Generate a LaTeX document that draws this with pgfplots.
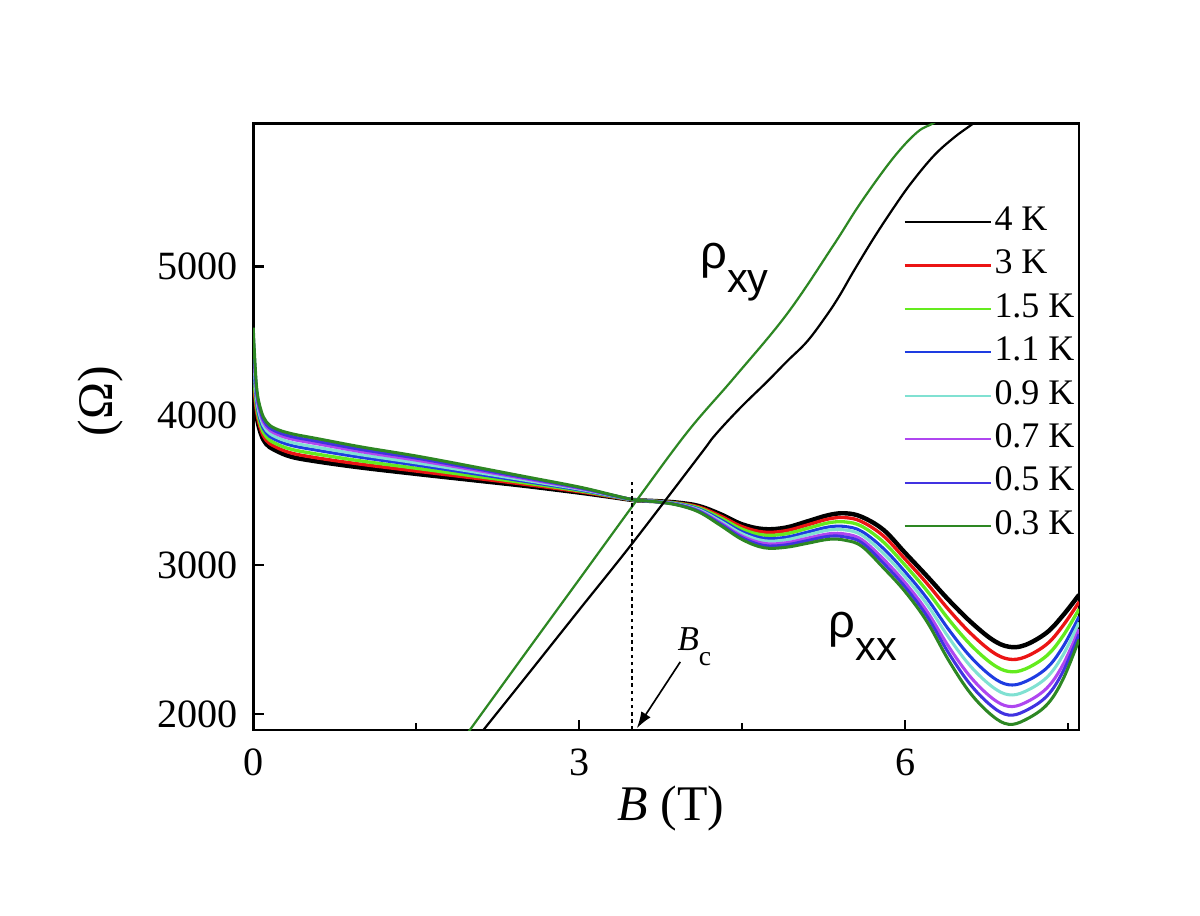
\documentclass[border=0pt]{standalone}
\usepackage{fontspec}
\setmainfont{Liberation Serif}
\newfontfamily\sansf{Liberation Sans}
\usepackage{pgfplots}
\usepackage{pgfplotstable}
\pgfplotsset{compat=1.18}
\usetikzlibrary{arrows.meta}
\definecolor{cK}{RGB}{0,0,0}
\definecolor{cR}{RGB}{235,20,20}
\definecolor{cLG}{RGB}{100,235,30}
\definecolor{cB}{RGB}{30,60,225}
\definecolor{cC}{RGB}{128,225,210}
\definecolor{cP}{RGB}{175,70,240}
\definecolor{cBV}{RGB}{65,50,225}
\definecolor{cG}{RGB}{45,135,35}

\pgfplotstableread{
B     K     R     LG    BL    C     P     BV    G
0     4180  4246  4311  4381  4434  4496  4541  4590
0.03  4000  4032  4064  4098  4124  4154  4176  4200
0.07  3880  3906  3931  3958  3979  4003  4021  4040
0.12  3810  3834  3858  3884  3903  3926  3942  3960
0.2   3770  3793  3816  3841  3860  3882  3898  3915
0.35  3725  3750  3775  3801  3821  3844  3861  3880
0.6   3692  3716  3741  3767  3787  3810  3827  3845
1.0   3652  3674  3696  3720  3738  3758  3773  3790
1.5   3610  3629  3648  3669  3684  3702  3716  3730
2.0   3570  3585  3599  3615  3627  3641  3651  3662
2.5   3530  3540  3550  3560  3568  3578  3585  3592
3.0   3485  3491  3497  3503  3508  3513  3518  3522
3.3   3455  3457  3460  3462  3464  3467  3468  3470
3.5   3435  3435  3436  3436  3436  3437  3437  3437
3.7   3428  3427  3427  3426  3426  3425  3424  3424
3.9   3418  3415  3413  3410  3408  3406  3404  3402
4.1   3395  3389  3382  3375  3370  3364  3360  3355
4.3   3340  3328  3316  3303  3293  3282  3274  3265
4.5   3272  3256  3239  3222  3209  3193  3182  3170
4.7   3240  3220  3200  3179  3162  3144  3130  3115
4.9   3250  3229  3208  3185  3168  3148  3134  3118
5.1   3292  3268  3245  3220  3201  3179  3163  3145
5.3   3335  3309  3283  3255  3234  3209  3192  3172
5.45  3346  3317  3288  3257  3234  3207  3187  3165
5.6   3322  3290  3259  3225  3200  3170  3149  3125
5.8   3235  3194  3153  3110  3077  3039  3011  2980
6.0   3080  3038  2997  2953  2919  2880  2851  2820
6.2   2925  2876  2827  2776  2736  2690  2657  2620
6.4   2765  2700  2635  2567  2514  2453  2409  2360
6.6   2620  2543  2466  2385  2322  2250  2198  2140
6.8   2500  2418  2337  2250  2184  2107  2051  1990
6.95  2452  2369  2286  2197  2130  2052  1994  1932
7.1   2462  2382  2301  2216  2151  2075  2020  1960
7.3   2545  2467  2390  2307  2244  2172  2118  2060
7.45  2660  2591  2522  2449  2393  2329  2282  2230
7.6   2800  2752  2704  2653  2614  2569  2536  2500
}\rxx

\pgfplotstableread{
B     R
1.95  1850
2.5   2403
3.0   2903
3.53  3434
4.0   3895
4.42  4250
4.91  4680
5.34  5143
5.59  5427
5.89  5728
6.11  5900
6.26  5961
6.4   6030
}\rxyG

\pgfplotstableread{
B     R
2.07  1850
2.5   2241
3.0   2699
3.49  3146
4.11  3736
4.25  3870
4.48  4051
4.73  4229
4.91  4363
5.10  4500
5.28  4676
5.40  4810
5.52  4962
5.71  5190
5.89  5390
6.05  5555
6.26  5740
6.45  5865
6.63  5961
6.75  6030
}\rxyK

\begin{document}
\begin{tikzpicture}
\begin{axis}[
  scale only axis, width=298.4pt, height=219.3pt,
  xmin=0, xmax=7.6, ymin=1893, ymax=5961,
  xtick={0,3,6}, minor xtick={1.5,4.5,7.5},
  ytick={2000,3000,4000,5000},
  xtick pos=bottom, ytick pos=left,
  tick align=inside, major tick length=3.8pt, minor tick length=2.4pt,
  tick style={black, line width=0.9pt},
  axis line style={line width=1pt},
  /pgf/number format/1000 sep={},
  /pgf/number format/assume math mode=true,
  tick label style={font=\fontsize{14.5}{14.5}\selectfont},
  xticklabel style={anchor=base, inner sep=0pt, yshift=-16.3pt},
  yticklabel style={anchor=east, inner sep=0pt, xshift=-5.4pt},
  xlabel={\textit{B} (T)}, ylabel={(Ω)},
  every axis x label/.style={at={(rel axis cs:0.506,0)}, anchor=base, yshift=-32.5pt, font=\fontsize{18}{18}\selectfont},
  every axis y label/.style={at={(rel axis cs:0,0.542)}, xshift=-55.3pt, rotate=90, anchor=center, font=\fontsize{18}{18}\selectfont},
  legend style={at={(rel axis cs:0.787,0.870)}, anchor=north west, draw=none, fill=none, inner sep=0pt,
     font=\fontsize{13}{13}\selectfont, row sep=1.7pt,
     nodes={inner sep=1pt, text height=9pt, text depth=3pt}},
  legend cell align=left,
  legend image code/.code={\draw[#1] (0pt,0pt) -- (28pt,0pt); \path (0pt,0pt) -- (31pt,0pt);},
  legend image post style={line width=0.8pt},
]
\addplot[cK, line width=1.6pt, smooth, tension=0.6] table[x=B, y=K] {\rxx};
\addlegendentry{4 K}
\addplot[cR, line width=1.2pt, smooth, tension=0.6] table[x=B, y=R] {\rxx};
\addlegendentry{3 K}
\addplot[cLG, line width=1.2pt, smooth, tension=0.6] table[x=B, y=LG] {\rxx};
\addlegendentry{1.5 K}
\addplot[cB, line width=1.1pt, smooth, tension=0.6] table[x=B, y=BL] {\rxx};
\addlegendentry{1.1 K}
\addplot[cC, line width=1.1pt, smooth, tension=0.6] table[x=B, y=C] {\rxx};
\addlegendentry{0.9 K}
\addplot[cP, line width=1.1pt, smooth, tension=0.6] table[x=B, y=P] {\rxx};
\addlegendentry{0.7 K}
\addplot[cBV, line width=1.1pt, smooth, tension=0.6] table[x=B, y=BV] {\rxx};
\addlegendentry{0.5 K}
\addplot[cG, line width=1.1pt, smooth, tension=0.6] table[x=B, y=G] {\rxx};
\addlegendentry{0.3 K}

\addplot[forget plot, cG, line width=0.8pt, smooth, tension=0.6] table[x=B, y=R] {\rxyG};
\addplot[forget plot, cK, line width=0.8pt, smooth, tension=0.6] table[x=B, y=R] {\rxyK};

\addplot[forget plot, black, line width=0.7pt, dash pattern=on 1.3pt off 1.3pt] coordinates {(3.49,1893) (3.49,3580)};

\draw[-{Latex[length=6pt,width=4pt]}, line width=0.6pt] (axis cs:3.93,2350) -- (axis cs:3.53,1905);

\node[anchor=base west, inner sep=0pt] at (axis cs:3.90,2429)
  {\fontsize{12.6}{12.6}\selectfont\textit{B}\raisebox{-5.4pt}{\fontsize{10}{10}\selectfont c}};
\node[anchor=base west, inner sep=0pt] at (axis cs:4.11,4985)
  {\sansf\fontsize{17}{17}\selectfont ρ\raisebox{-8.5pt}{\fontsize{15}{15}\selectfont xy}};
\node[anchor=base west, inner sep=0pt] at (axis cs:5.29,2516)
  {\sansf\fontsize{17}{17}\selectfont ρ\raisebox{-8.5pt}{\fontsize{15}{15}\selectfont xx}};

\coordinate (sw) at (rel axis cs:0,0);
\coordinate (ne) at (rel axis cs:1,1);
\end{axis}
\pgfresetboundingbox
\path ([shift={(-91.5pt,-66.9pt)}]sw) rectangle ([shift={(43.7pt,44.5pt)}]ne);
\end{tikzpicture}
\end{document}
